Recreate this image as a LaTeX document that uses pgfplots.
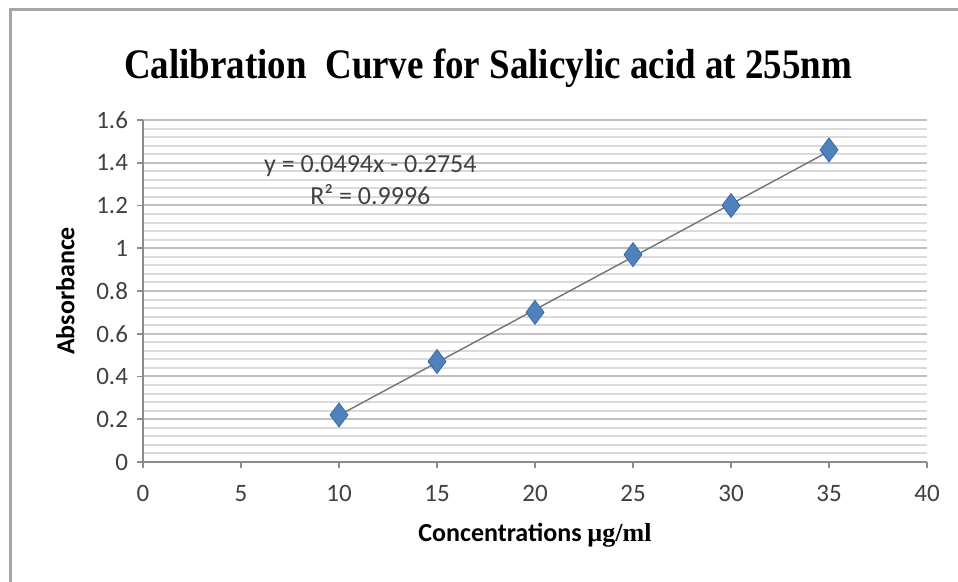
\documentclass[border=0pt]{standalone}
\usepackage{pgfplots}
\pgfplotsset{compat=1.18}
\usepackage{fontspec}
\setmainfont{Carlito}
\newfontfamily\titlefont{Liberation Serif}
\definecolor{gridmaj}{HTML}{C0C0C0}
\definecolor{gridmin}{HTML}{DADADA}
\definecolor{axgray}{HTML}{8C8C8C}
\definecolor{markblue}{HTML}{4F81BD}
\definecolor{markedge}{HTML}{3A6AA6}
\definecolor{txt}{HTML}{404040}
\begin{document}
\begin{tikzpicture}
\path[use as bounding box] (0pt,0pt) rectangle (479pt,291pt);
\draw[line width=1.5pt, color=gray!70] (5pt,0pt) -- (5pt,286pt) -- (479pt,286pt);
\node[anchor=center] at (244pt,257pt) {\titlefont\fontsize{21}{25}\selectfont\bfseries\scalebox{0.88}[1]{Calibration\ \ Curve for Salicylic acid at 255nm}};
\begin{axis}[
  at={(71.5pt,60pt)}, anchor=south west,
  width=392pt, height=171pt, scale only axis,
  xmin=0, xmax=40, ymin=0, ymax=1.6,
  xtick={0,5,...,40},
  ytick={0,0.2,...,1.6},
  minor y tick num=4,
  ymajorgrids, yminorgrids,
  major grid style={gridmaj, line width=1pt},
  minor grid style={gridmin, line width=1pt},
  axis x line*=bottom, axis y line*=left,
  axis line style={axgray, line width=0.8pt},
  tick style={axgray, line width=0.8pt},
  major tick length=3pt,
  minor tick length=0pt,
  tick align=outside,
  tick pos=left,
  /pgf/number format/assume math mode=true,
  yticklabel style={/pgf/number format/fixed, /pgf/number format/precision=1, font=\fontsize{12.5}{14}\selectfont, color=txt, xshift=-1pt},
  xticklabel style={font=\fontsize{12.5}{14}\selectfont, color=txt, yshift=-5pt},
  xlabel={\textbf{Concentrations {\titlefont µg/ml}}},
  ylabel={\textbf{Absorbance}},
  label style={font=\fontsize{13}{15}\selectfont},
  xlabel style={yshift=-4pt},
  ylabel style={yshift=4pt},
  clip=false,
]
\addplot[color=gray!90!black, line width=0.7pt, no marks] coordinates {
  (10,0.2186) (15,0.4656) (20,0.7126) (25,0.9596) (30,1.2066) (35,1.4536)
};
\addplot[only marks, mark=diamond*, mark size=6pt, mark options={fill=markblue, draw=markedge, line width=0.4pt}] coordinates {
  (10,0.22) (15,0.47) (20,0.70) (25,0.97) (30,1.20) (35,1.46)
};
\node[align=center, font=\fontsize{13}{16}\selectfont, color=txt] at (axis cs:11.6,1.32) {y = 0.0494x - 0.2754\\R² = 0.9996};
\end{axis}
\end{tikzpicture}
\end{document}
